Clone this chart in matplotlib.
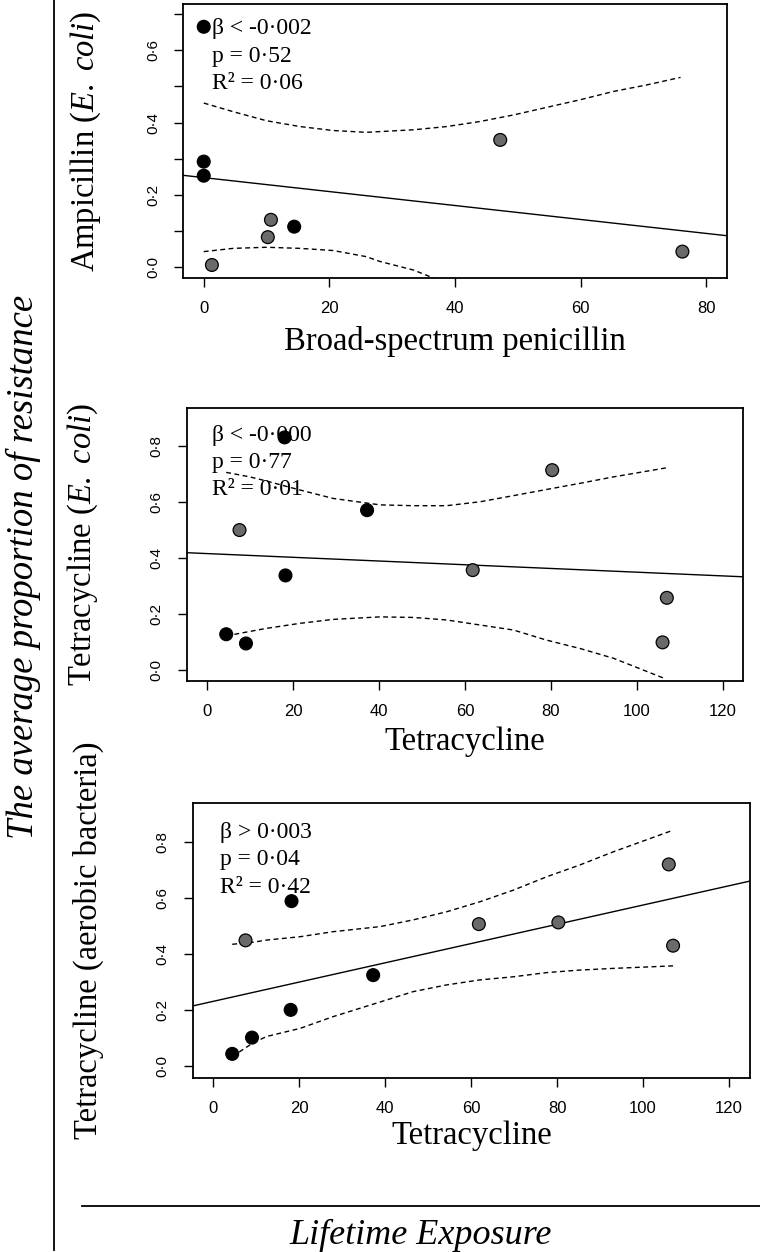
import numpy as np
from matplotlib import pyplot as plt
from matplotlib.lines import Line2D

SERIF = 'Liberation Serif'
SANS = 'Liberation Sans'
plt.rcParams['mathtext.fontset'] = 'custom'
plt.rcParams['mathtext.rm'] = SERIF
plt.rcParams['mathtext.it'] = SERIF + ':italic'

# panel 1: ampicillin (E. coli) vs broad-spectrum penicillin
amp_x = [0, 0, 0, 1.3, 10.2, 10.7, 14.4, 47.2, 76.2]
amp_y = [0.665, 0.292, 0.253, 0.006, 0.083, 0.131, 0.112, 0.352, 0.043]
amp_dark = [1, 1, 1, 0, 0, 0, 1, 0, 0]
amp_fit = (0.2477, -0.00193)
amp_band_x = [0, 4.7, 10.0, 15.3, 20.6, 25.9, 28.0, 33.4, 38.7, 44.0, 49.3, 54.6, 59.9, 65.2, 70.5, 75.9]
amp_band_hi = [0.454, 0.430, 0.405, 0.389, 0.378, 0.373, 0.375, 0.380, 0.389, 0.403, 0.421, 0.442,
               0.463, 0.486, 0.504, 0.525]
amp_band_lo = [0.043, 0.052, 0.055, 0.052, 0.046, 0.029, 0.016, -0.008, -0.045, -0.08, -0.115, -0.155,
               -0.199, -0.24, -0.28, -0.324]
amp_stats = ['\u03b2 < -0\u00b7002', 'p = 0\u00b752', 'R\u00b2 = 0\u00b706']

# panels 2 and 3 share the tetracycline exposure values
tet_x = [4.4, 9.0, 18.0, 18.2, 7.5, 37.2, 61.8, 80.3, 106.0, 107.0]
tet_dark = [1, 1, 1, 1, 0, 1, 0, 0, 0, 0]

# panel 2: tetracycline (E. coli)
tce_y = [0.128, 0.095, 0.831, 0.338, 0.5, 0.571, 0.357, 0.714, 0.099, 0.258]
tce_fit = (0.416, -0.000664)
tce_band_x = [4.4, 9.9, 13.8, 21.6, 29.3, 40.2, 48.0, 55.7, 63.5, 71.3, 79.0, 86.8, 94.6, 106.8]
tce_band_hi = [0.706, 0.690, 0.675, 0.643, 0.613, 0.590, 0.587, 0.587, 0.601, 0.623, 0.645, 0.667,
               0.690, 0.722]
tce_band_lo = [0.122, 0.138, 0.149, 0.167, 0.181, 0.190, 0.188, 0.179, 0.161, 0.143, 0.107, 0.077,
               0.042, -0.032]
tce_stats = ['\u03b2 < -0\u00b7000', 'p = 0\u00b777', 'R\u00b2 = 0\u00b701']

# panel 3: tetracycline (aerobic bacteria)
tca_y = [0.043, 0.101, 0.2, 0.588, 0.448, 0.324, 0.506, 0.512, 0.719, 0.429]
tca_fit = (0.2305, 0.003435)
tca_band_x = [4.4, 9.1, 12.4, 20.2, 27.9, 38.8, 46.5, 54.3, 62.1, 69.8, 77.6, 85.3, 93.1, 107.0]
tca_band_hi = [0.434, 0.441, 0.449, 0.461, 0.479, 0.497, 0.521, 0.550, 0.586, 0.627, 0.675, 0.717,
               0.764, 0.841]
tca_band_lo = [0.033, 0.081, 0.105, 0.134, 0.176, 0.228, 0.265, 0.289, 0.307, 0.318, 0.333, 0.342,
               0.348, 0.357]
tca_stats = ['\u03b2 > 0\u00b7003', 'p = 0\u00b704', 'R\u00b2 = 0\u00b742']

W, H = 760, 1252


def px_axes(fig, left, top, right, bottom):
    return fig.add_axes([left / W, 1 - bottom / H, (right - left) / W, (bottom - top) / H])


def fmt(v):
    return '{:.1f}'.format(v).replace('.', '\u00b7')


def draw_panel(ax, x, y, dark, fit, bx, lo, hi, stats, stat_pos, xlim, ylim,
               xticks, yticks, ylabeled, xlabel, ylabel, xlab_y, ylab_x):
    cols = ['black' if d else '#6a6a6a' for d in dark]
    ax.scatter(x, y, s=85, c=cols, edgecolors='black', linewidths=0.9, zorder=3)
    ax.axline((0, fit[0]), slope=fit[1], color='black', lw=1.0)
    ax.plot(bx, hi, color='black', lw=1.0, dashes=(3.5, 2.5))
    ax.plot(bx, lo, color='black', lw=1.0, dashes=(3.5, 2.5))

    sx, sy = stat_pos
    for i, s in enumerate(stats):
        ax.text(sx, sy - i * 0.1, s, transform=ax.transAxes, ha='left', va='center',
                family=SERIF, fontsize=17)

    ax.set_xlim(*xlim)
    ax.set_ylim(*ylim)
    ax.set_xticks(xticks)
    ax.set_xticklabels([str(t) for t in xticks], family=SANS, fontsize=12)
    ax.set_yticks(yticks)
    ax.set_yticklabels([fmt(t) if t in ylabeled else '' for t in yticks],
                       family=SANS, fontsize=11, rotation=90, va='center')
    ax.tick_params(direction='out', length=6.5, width=1.0, pad=10)
    for sp in ax.spines.values():
        sp.set_linewidth(1.3)

    ax.text(0.5, xlab_y, xlabel, transform=ax.transAxes, ha='center', va='center',
            family=SERIF, fontsize=23.5)
    ax.text(ylab_x, 0.5, ylabel, transform=ax.transAxes, ha='center', va='center',
            rotation=90, family=SERIF, fontsize=23.5)


fig = plt.figure(figsize=(W / 100, H / 100), dpi=100)

ax1 = px_axes(fig, 183, 4, 727, 278)
draw_panel(ax1, amp_x, amp_y, amp_dark, amp_fit, amp_band_x, amp_band_lo, amp_band_hi,
           amp_stats, (0.053, 0.909), (-3.3, 83.3), (-0.030, 0.728),
           [0, 20, 40, 60, 80], [0.0, 0.1, 0.2, 0.3, 0.4, 0.5, 0.6, 0.7],
           [0.0, 0.2, 0.4, 0.6], 'Broad-spectrum penicillin',
           'Ampicillin ($\\it{E.\\ coli}$)', -0.232, -0.178)

ax2 = px_axes(fig, 186.7, 407.7, 743.3, 681)
draw_panel(ax2, tet_x, tce_y, tet_dark, tce_fit, tce_band_x, tce_band_lo, tce_band_hi,
           tce_stats, (0.045, 0.9), (-4.8, 124.8), (-0.039, 0.937),
           [0, 20, 40, 60, 80, 100, 120], [0.0, 0.2, 0.4, 0.6, 0.8],
           [0.0, 0.2, 0.4, 0.6, 0.8], 'Tetracycline',
           'Tetracycline ($\\it{E.\\ coli}$)', -0.222, -0.186)

ax3 = px_axes(fig, 192.7, 803.3, 750, 1077.7)
draw_panel(ax3, tet_x, tca_y, tet_dark, tca_fit, tca_band_x, tca_band_lo, tca_band_hi,
           tca_stats, (0.049, 0.894), (-4.8, 124.9), (-0.042, 0.937),
           [0, 20, 40, 60, 80, 100, 120], [0.0, 0.2, 0.4, 0.6, 0.8],
           [0.0, 0.2, 0.4, 0.6, 0.8], 'Tetracycline',
           'Tetracycline (aerobic bacteria)', -0.21, -0.188)

# outer frame: vertical and horizontal rules with the shared labels
fig.add_artist(Line2D([54 / W, 54 / W], [1 - 1250 / H, 1.0], color='black', lw=1.3))
fig.add_artist(Line2D([82 / W, 1.0], [1 - 1206 / H, 1 - 1206 / H], color='black', lw=1.3))
fig.text(23 / W, 1 - 567 / H, 'The average proportion of resistance', rotation=90,
         ha='center', va='center', family=SERIF, style='italic', fontsize=26.5)
fig.text(421 / W, 1 - 1235 / H, 'Lifetime Exposure', ha='center', va='center',
         family=SERIF, style='italic', fontsize=26)

fig.savefig('out.png', dpi=100)
